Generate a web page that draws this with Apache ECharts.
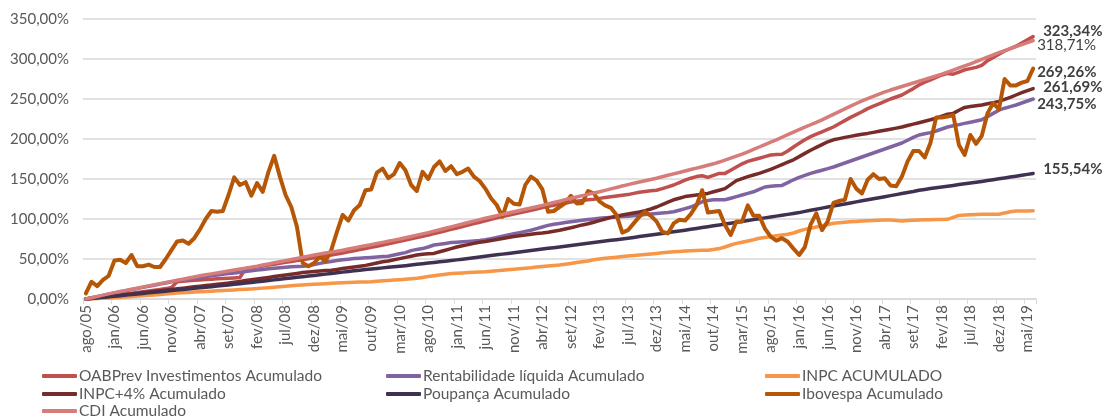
<!DOCTYPE html>
<html>
<head>
<meta charset="utf-8">
<script src="https://cdn.jsdelivr.net/npm/echarts@6/dist/echarts.min.js"></script>
<style>
html,body{margin:0;padding:0;background:#fff;}
#chart{width:1102px;height:417px;}
</style>
</head>
<body>
<div id="chart"></div>
<script>
const categories = [
'ago/05','set/05','out/05','nov/05','dez/05',
'jan/06','fev/06','mar/06','abr/06','mai/06','jun/06','jul/06','ago/06','set/06','out/06','nov/06','dez/06',
'jan/07','fev/07','mar/07','abr/07','mai/07','jun/07','jul/07','ago/07','set/07','out/07','nov/07','dez/07',
'jan/08','fev/08','mar/08','abr/08','mai/08','jun/08','jul/08','ago/08','set/08','out/08','nov/08','dez/08',
'jan/09','fev/09','mar/09','abr/09','mai/09','jun/09','jul/09','ago/09','set/09','out/09','nov/09','dez/09',
'jan/10','fev/10','mar/10','abr/10','mai/10','jun/10','jul/10','ago/10','set/10','out/10','nov/10','dez/10',
'jan/11','fev/11','mar/11','abr/11','mai/11','jun/11','jul/11','ago/11','set/11','out/11','nov/11','dez/11',
'jan/12','fev/12','mar/12','abr/12','mai/12','jun/12','jul/12','ago/12','set/12','out/12','nov/12','dez/12',
'jan/13','fev/13','mar/13','abr/13','mai/13','jun/13','jul/13','ago/13','set/13','out/13','nov/13','dez/13',
'jan/14','fev/14','mar/14','abr/14','mai/14','jun/14','jul/14','ago/14','set/14','out/14','nov/14','dez/14',
'jan/15','fev/15','mar/15','abr/15','mai/15','jun/15','jul/15','ago/15','set/15','out/15','nov/15','dez/15',
'jan/16','fev/16','mar/16','abr/16','mai/16','jun/16','jul/16','ago/16','set/16','out/16','nov/16','dez/16',
'jan/17','fev/17','mar/17','abr/17','mai/17','jun/17','jul/17','ago/17','set/17','out/17','nov/17','dez/17',
'jan/18','fev/18','mar/18','abr/18','mai/18','jun/18','jul/18','ago/18','set/18','out/18','nov/18','dez/18',
'jan/19','fev/19','mar/19','abr/19','mai/19','jun/19'
];

const seriesNames = [
'OABPrev Investimentos Acumulado',
'Rentabilidade líquida Acumulado',
'INPC ACUMULADO',
'INPC+4% Acumulado',
'Poupança Acumulado',
'Ibovespa Acumulado',
'CDI Acumulado'
];

const oabprev = [
0,0.8,1.7,2.6,3.5,4.4,5.3,6.2,7.1,8.0,9.0,10.0,11.0,12.0,13.0,14.5,
21.6,22.2,22.8,23.3,23.8,24.3,24.8,25.2,25.6,26.0,26.4,26.8,
38.0,39.0,40.0,41.2,42.4,43.5,44.6,45.8,46.9,48.0,49.1,50.2,51.4,52.6,53.8,
55.0,56.3,57.6,59.0,60.4,61.8,63.2,64.6,
66.0,67.5,69.0,70.5,72.0,73.6,75.2,76.8,78.4,80.0,
81.7,83.4,85.2,87.0,88.8,90.6,92.4,94.2,96.0,97.8,
99.6,101.4,103.0,104.6,106.2,107.8,109.4,111.0,112.6,114.2,115.8,117.2,118.4,119.8,121.2,
122.2,123.2,124.0,124.8,125.8,126.8,127.8,128.8,129.8,130.5,132.0,133.5,134.5,135.2,136.0,
138.0,140.2,142.5,145.5,148.5,151.0,153.0,154.0,152.0,154.5,157.0,157.0,
161.0,165.0,169.0,172.0,174.0,176.0,178.0,180.0,180.5,181.0,185.0,190.0,194.6,199.0,203.0,
206.0,209.0,212.0,215.0,219.0,223.0,227.0,230.5,234.0,238.0,241.0,244.0,247.0,250.0,252.5,255.0,
259.0,263.0,267.5,271.0,274.0,277.0,280.0,282.0,281.0,283.5,286.5,288.0,289.5,292.0,298.0,302.0,306.0,
310.0,313.0,316.0,320.0,324.0,328.0
];

const rentabilidade = [
0,1.5,3.0,4.5,6.0,7.5,8.9,10.3,11.7,13.1,14.5,15.9,17.3,18.7,20.1,21.5,
23.0,24.0,25.0,26.0,27.0,28.0,29.0,30.0,31.0,31.8,32.6,33.5,
34.5,35.3,36.1,36.9,37.7,38.5,39.2,39.8,40.3,40.7,41.0,41.5,43.0,44.5,46.0,
47.0,48.0,49.0,49.8,50.5,51.0,51.5,52.0,52.5,53.0,53.5,
55.0,56.5,58.0,60.5,62.0,63.0,65.0,67.5,68.5,
69.5,70.5,71.0,71.5,72.0,72.5,73.0,74.0,
75.5,77.0,78.5,80.0,81.5,83.0,84.5,86.0,88.0,
90.0,92.0,93.5,94.5,95.5,96.5,97.5,98.5,99.3,100.0,100.8,101.5,102.0,102.5,103.0,103.5,
104.2,105.0,105.7,106.3,107.0,107.5,108.0,109.0,111.0,113.0,115.0,118.0,121.6,123.0,124.0,124.0,124.0,
126.0,128.0,130.0,132.0,134.0,137.0,140.0,141.0,141.5,142.0,145.5,149.0,152.0,154.5,157.0,
159.0,161.0,163.0,165.0,167.5,170.0,172.5,175.0,177.5,180.0,182.5,185.0,187.5,190.0,192.5,195.0,
198.5,202.0,205.0,206.5,208.0,210.0,212.5,215.0,216.5,218.0,219.5,221.0,222.5,224.0,228.0,232.0,236.0,
238.5,240.5,242.5,245.0,247.5,250.0
];

const inpc = [
0,0.3,0.6,0.9,1.3,1.7,2.1,2.6,3.1,3.6,4.1,4.6,5.1,5.6,6.2,7.0,
7.4,7.8,8.2,8.6,9.0,9.4,9.8,10.2,10.6,11.0,11.4,11.8,12.2,12.6,13.0,
13.6,14.2,14.8,15.4,16.0,16.6,17.2,17.6,18.0,18.4,18.8,19.2,19.6,
19.9,20.2,20.5,20.8,21.1,21.4,21.7,22.2,22.7,23.2,23.7,24.2,24.8,25.4,26.0,
27.0,28.0,29.0,30.0,31.0,31.8,32.2,32.6,33.0,33.4,33.8,34.2,
34.8,35.4,36.0,36.6,37.2,37.8,38.4,39.0,40.0,40.6,41.2,41.8,42.5,43.5,44.5,
45.5,46.5,47.5,49.0,50.0,50.8,51.6,52.3,53.0,53.7,54.3,54.9,55.5,56.2,57.0,
57.7,58.3,59.0,59.5,60.0,60.4,60.7,61.0,61.0,62.0,63.0,65.0,
67.5,69.5,71.0,72.5,74.0,76.0,77.0,78.0,79.0,80.0,81.0,82.5,85.0,87.0,88.5,
90.0,91.5,93.0,94.6,95.3,96.0,96.6,97.0,97.4,97.7,98.0,98.3,98.6,98.8,98.2,97.5,98.0,98.5,
98.8,99.0,99.2,99.4,99.5,99.6,102.0,104.5,105.0,105.3,105.6,105.8,106.0,106.0,106.0,107.5,109.0,110.0,110.0,110.0,110.3
];

const inpc4 = [
0,0.8,1.6,2.4,3.2,4.0,4.8,5.6,6.4,7.2,8.0,8.8,9.6,10.4,11.2,12.0,12.8,13.6,14.4,15.2,16.0,16.8,17.6,18.4,19.2,20.0,21.0,22.0,23.0,
24.0,25.0,26.0,27.0,28.0,29.0,30.0,31.0,32.0,33.0,33.8,34.5,35.0,35.5,36.0,
37.0,38.0,39.0,40.0,41.0,42.0,43.5,45.0,46.5,47.5,
49.0,50.5,52.0,53.5,55.0,56.0,56.5,57.0,
59.0,61.0,63.0,65.0,66.5,68.0,69.5,71.0,72.0,
73.2,74.4,75.6,76.8,78.0,79.0,80.0,81.0,82.0,
82.5,83.5,84.8,86.0,87.5,89.0,90.8,92.6,94.0,96.0,98.0,100.0,102.0,103.5,105.0,106.3,107.6,108.8,110.5,112.5,
115.0,118.0,121.0,124.0,126.0,128.0,129.0,130.0,131.0,132.0,134.0,136.0,138.0,143.0,148.0,150.5,153.0,155.0,157.0,159.5,
162.0,165.0,168.0,171.0,174.0,178.0,182.0,186.0,
189.5,193.0,196.5,199.0,200.5,202.0,203.3,204.6,206.0,207.0,208.3,209.6,211.0,212.3,213.6,215.0,
216.8,218.6,220.4,222.2,224.0,226.0,228.5,231.0,232.0,236.0,239.5,240.5,241.5,242.5,244.0,245.5,247.0,
249.5,252.0,255.0,258.0,260.5,263.0
];

const poupanca = [
0,0.7,1.4,2.1,2.8,3.5,4.2,4.9,5.6,6.3,7.0,
7.7,8.4,9.1,9.8,10.5,11.2,11.9,12.6,13.3,14.0,
14.7,15.4,16.1,16.8,17.5,18.3,19.1,19.9,20.7,21.5,
22.3,23.1,23.9,24.7,25.5,26.3,27.1,27.9,28.7,29.5,30.3,31.1,32.0,
32.8,33.6,34.4,35.2,36.0,36.8,37.5,
38.2,38.9,39.6,40.3,41.0,41.7,42.5,43.3,44.1,44.9,45.7,46.5,47.2,48.0,
48.9,49.8,50.7,51.6,52.5,53.4,54.3,55.2,56.1,57.0,57.9,58.8,59.7,60.6,61.5,62.4,63.3,64.2,65.1,66.0,67.0,
67.9,68.8,69.7,70.6,71.5,72.4,73.3,74.2,75.1,76.0,77.0,78.0,79.0,80.0,81.0,82.0,83.0,84.0,85.0,86.0,
87.1,88.2,89.3,90.4,91.5,92.6,93.7,94.8,95.9,97.0,98.1,99.2,100.3,101.4,102.5,103.6,104.7,105.8,106.9,108.0,109.5,111.0,
112.3,113.6,114.9,116.2,117.5,118.8,120.1,121.4,122.7,124.0,125.3,126.6,127.9,129.2,130.5,131.8,133.1,134.4,136.0,
137.0,138.0,139.0,140.0,141.0,142.0,143.0,144.0,145.0,146.0,147.0,148.0,149.1,150.2,151.3,152.4,153.5,154.6,155.8,157.0
];

const ibovespa = [
7,21.6,16,24,29,48,49,45,55,41,41,43,40,40,50,61,72,73,69,76,
87,100,110,109,110,130,152,142.5,146,129,145,134,159,179,153,130,115,90,45,41,
45,53,47,61,84,105,98,111,117.5,136,137,158,163,151,156,170,161,142.5,135,159,
150,165,172,160,166,156,159,163,153,147.5,138,126,117.5,103,125,119,118,142.5,153,148,
137,109,110,115,120,129,119.5,120,135,132,122,117,114,105,83,86,94.5,103,109,104,
97,84,82,94.5,99,98,106,117,136,108,109,110,92.5,80,97,97,117,104,104,88,
78,73,76,71.5,63,55,65,93,107,86,97,120,122.5,124,150,138,132,149,156,150,
151,142,141,153,172,185,185,177,195,227,227,228,230,192.5,180,205,194,204,232,245,
237,275,267,267,270.5,272.5,288
];

const cdi = [
0,1.6,3.2,4.8,6.4,8.0,9.4,10.8,12.2,13.6,15.0,
16.4,17.8,19.2,20.6,22.0,23.4,24.8,26.2,27.6,29.0,
30.2,31.4,32.6,33.8,35.0,36.2,37.4,38.6,39.8,41.0,
42.4,43.8,45.2,46.6,48.0,49.4,50.8,52.2,53.6,55.0,
56.2,57.4,58.6,59.8,61.0,62.4,63.8,65.2,66.6,68.0,
69.4,70.8,72.2,73.6,75.0,76.6,78.2,79.8,81.4,83.0,
84.8,86.6,88.4,90.2,92.0,93.8,95.6,97.4,99.2,101.0,
102.6,104.2,105.8,107.4,109.0,110.6,112.2,113.8,115.4,117.0,
118.8,120.6,122.4,124.2,126.0,127.6,129.2,130.8,132.4,134.0,
135.8,137.6,139.4,141.2,143.0,144.6,146.2,147.8,149.4,151.0,
152.8,154.6,156.4,158.2,160.0,161.8,163.6,165.4,167.2,169.0,
171.2,173.6,176.0,178.5,181.0,184.0,187.0,190.0,193.0,196.0,
199.0,202.2,205.4,208.6,211.8,214.8,217.8,220.8,224.0,227.4,
230.8,234.2,237.6,241.0,244.4,247.6,250.6,253.4,256.2,258.8,
261.2,263.4,265.6,267.8,270.0,272.2,274.4,276.6,278.8,281.0,
283.6,286.2,288.8,291.4,294.0,296.8,299.6,302.4,305.2,308.0,
310.5,313.0,315.5,318.0,320.5,323.0
];

const yTicks = [0, 50, 100, 150, 200, 250, 300, 350];
const endLabelTexts = ['323,34%', '243,75%', '', '261,69%', '155,54%', '269,26%', '318,71%'];

const seriesData = [oabprev, rentabilidade, inpc, inpc4, poupanca, ibovespa, cdi];
const colors = ['#C0504D', '#8064A2', '#F79646', '#772C2A', '#403152', '#B65708', '#D67C79'];
const widths = [3.5, 3.5, 3.5, 3.5, 3.5, 4, 3.5];
const endOffsets = [[6, -5], [0, 5], [0, 0], [6, -1], [6, -4], [0, 4], [0, 5]];
const endBold = [true, true, false, true, true, true, false];
// legend slots: [left, top] for each series, in series order
const legendSlots = [[42, 368], [386, 368], [765, 368], [42, 386], [386, 386], [765, 386], [42, 403]];

const FONT = 'Lato';
const chart = echarts.init(document.getElementById('chart'), null, {renderer: 'canvas'});

const series = seriesNames.map((name, k) => ({
  name: name,
  type: 'line',
  data: seriesData[k],
  symbol: 'none',
  smooth: false,
  clip: false,
  lineStyle: {color: colors[k], width: widths[k], cap: 'round', join: 'round'},
  itemStyle: {color: colors[k]},
  z: 2 + k,
  animation: false,
  endLabel: {
    show: endLabelTexts[k] !== '',
    formatter: () => endLabelTexts[k],
    color: '#404040',
    fontFamily: FONT,
    fontSize: 15,
    fontWeight: endBold[k] ? 'bold' : 'normal',
    distance: 4,
    offset: endOffsets[k]
  }
}));

const legends = seriesNames.map((name, k) => ({
  orient: 'horizontal',
  icon: 'roundRect',
  itemWidth: 35,
  itemHeight: 4,
  padding: 0,
  left: legendSlots[k][0],
  top: legendSlots[k][1],
  textStyle: {color: '#595959', fontFamily: FONT, fontSize: 15.5, lineHeight: 16, padding: [0, 0, 0, -3]},
  selectedMode: false,
  data: [name]
}));

const option = {
  animation: false,
  backgroundColor: '#ffffff',
  grid: {left: 83, right: 66, top: 19, bottom: 118, containLabel: false},
  legend: legends,
  xAxis: {
    type: 'category',
    data: categories,
    boundaryGap: true,
    axisLine: {show: true, lineStyle: {color: '#D9D9D9', width: 1.5}},
    axisTick: {show: true, interval: 4, alignWithLabel: false, length: 5, lineStyle: {color: '#D9D9D9', width: 1}},
    axisLabel: {interval: 4, rotate: 90, color: '#595959', fontFamily: FONT, fontSize: 15, margin: 6},
    splitLine: {show: false}
  },
  yAxis: {
    type: 'value',
    min: yTicks[0],
    max: yTicks[yTicks.length - 1],
    interval: 50,
    axisLine: {show: false},
    axisTick: {show: false},
    axisLabel: {
      color: '#595959', fontFamily: FONT, fontSize: 15, margin: 14,
      formatter: v => v.toFixed(2).replace('.', ',') + '%'
    },
    splitLine: {show: true, lineStyle: {color: '#D9D9D9', width: 1.5}}
  },
  series: series
};

chart.setOption(option);
</script>
</body>
</html>
